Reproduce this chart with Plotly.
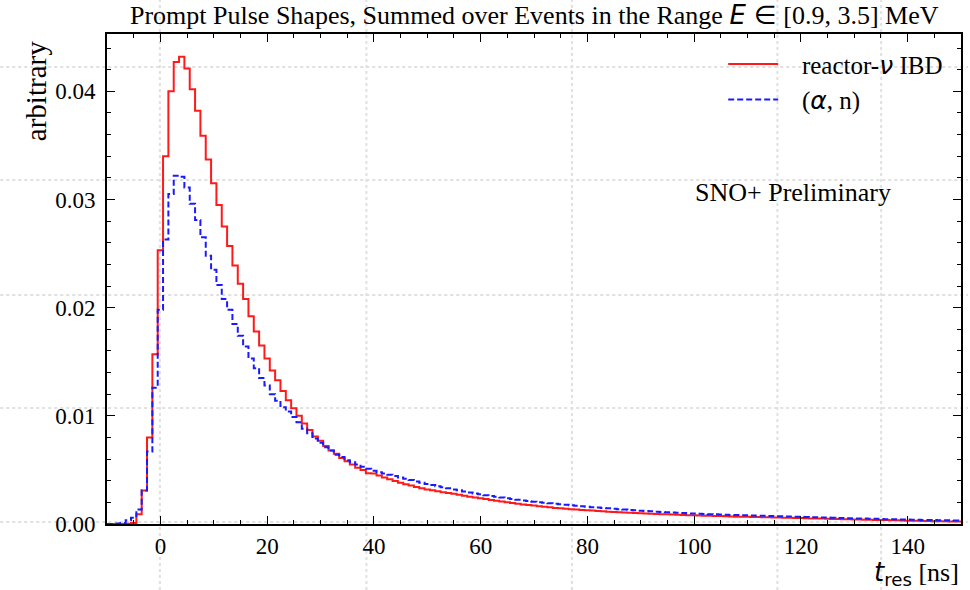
import plotly.graph_objects as go

# bin centres in ns (1 ns wide bins)
t_res = list(range(-10, 151))

ibd = [
    0, 0, 0, 0, 0.00003, 0.0001, 0.0009, 0.0031, 0.0080, 0.0157,
    0.0253, 0.0340, 0.0400, 0.0427, 0.0432, 0.0421, 0.0402, 0.0382, 0.0359, 0.0337,
    0.0315, 0.0295, 0.0275, 0.0257, 0.0239, 0.0222, 0.0208, 0.0192, 0.0178, 0.0165,
    0.0153, 0.0142, 0.0133, 0.0123, 0.01145, 0.0107, 0.0100, 0.0093, 0.0087, 0.0081,
    0.0077, 0.0072, 0.0068, 0.0065, 0.0061, 0.0058, 0.0055, 0.0052, 0.0050, 0.0047,
    0.00468, 0.00449, 0.00431, 0.00414, 0.00398, 0.00382, 0.00368, 0.00355, 0.00342, 0.00331,
    0.00320, 0.00311, 0.00302, 0.00294, 0.00287, 0.00280, 0.00270, 0.00261, 0.00253, 0.00245,
    0.00237, 0.00230, 0.00222, 0.00214, 0.00207, 0.00200, 0.00194, 0.00188, 0.00181, 0.00175,
    0.00170, 0.00164, 0.00159, 0.00154, 0.00149, 0.00145, 0.00141, 0.00137, 0.00134, 0.00130,
    0.00127, 0.00124, 0.00120, 0.00117, 0.00114, 0.00111, 0.00109, 0.00106, 0.00104, 0.00101,
    0.00099, 0.00097, 0.00095, 0.00093, 0.00091, 0.00089, 0.00087, 0.00085, 0.00083, 0.00082,
    0.00080, 0.00079, 0.00077, 0.00076, 0.00074, 0.00073, 0.00071, 0.00070, 0.00068, 0.00067,
    0.00066, 0.00065, 0.00064, 0.00063, 0.00062, 0.00061, 0.00060, 0.00058, 0.00057, 0.00056,
    0.00055, 0.00054, 0.00052, 0.00051, 0.00050, 0.00049, 0.00047, 0.00046, 0.00045, 0.00044,
    0.00042, 0.00041, 0.00040, 0.00039, 0.00038, 0.00037, 0.00036, 0.00035, 0.00034, 0.00032,
    0.00031, 0.00030, 0.00029, 0.00028, 0.00027, 0.00026, 0.00026, 0.00025, 0.00024, 0.00023,
    0.00022,
]

alpha_n = [
    0, 0, 0.00005, 0.0001, 0.00035, 0.00057, 0.00134, 0.0031, 0.0067, 0.0126,
    0.0198, 0.0263, 0.0305, 0.0322, 0.0321, 0.0311, 0.0296, 0.0281, 0.0265, 0.0248,
    0.0235, 0.0221, 0.0208, 0.0198, 0.0185, 0.0174, 0.0164, 0.0153, 0.0144, 0.0135,
    0.0128, 0.0120, 0.0114, 0.0108, 0.0104, 0.0099, 0.0094, 0.0088, 0.0084, 0.0079,
    0.0075, 0.0071, 0.0068, 0.0064, 0.0062, 0.0059, 0.0057, 0.0055, 0.0053, 0.0051,
    0.00492, 0.00479, 0.00467, 0.00455, 0.00443, 0.00431, 0.00419, 0.00406, 0.00394, 0.00382,
    0.00370, 0.00360, 0.00350, 0.00340, 0.00330, 0.00320, 0.00311, 0.00301, 0.00292, 0.00283,
    0.00274, 0.00266, 0.00259, 0.00251, 0.00244, 0.00237, 0.00231, 0.00224, 0.00218, 0.00212,
    0.00206, 0.00201, 0.00196, 0.00191, 0.00187, 0.00182, 0.00178, 0.00173, 0.00169, 0.00164,
    0.00160, 0.00156, 0.00152, 0.00148, 0.00145, 0.00141, 0.00137, 0.00134, 0.00130, 0.00127,
    0.00123, 0.00120, 0.00117, 0.00114, 0.00111, 0.00108, 0.00106, 0.00103, 0.00101, 0.00098,
    0.00096, 0.00094, 0.00093, 0.00091, 0.00089, 0.00088, 0.00086, 0.00084, 0.00083, 0.00081,
    0.00080, 0.00079, 0.00077, 0.00076, 0.00074, 0.00073, 0.00071, 0.00070, 0.00069, 0.00067,
    0.00066, 0.00065, 0.00063, 0.00062, 0.00060, 0.00059, 0.00058, 0.00056, 0.00055, 0.00053,
    0.00052, 0.00051, 0.00050, 0.00049, 0.00048, 0.00046, 0.00045, 0.00044, 0.00043, 0.00042,
    0.00041, 0.00040, 0.00039, 0.00038, 0.00037, 0.00036, 0.00035, 0.00034, 0.00034, 0.00033,
    0.00032,
]

serif = "Liberation Serif, Times New Roman, serif"
math = "font-family:'DejaVu Sans'"
gap = "\u00a0\u00a0\u00a0"  # extra space between legend sample and label

fig = go.Figure()
fig.add_trace(go.Scatter(
    x=t_res, y=ibd, mode="lines", line_shape="hvh",
    line=dict(color="#ff1a1a", width=2),
    name=gap + "reactor-<span style=\"" + math + "\"><i>ν</i></span> IBD",
))
fig.add_trace(go.Scatter(
    x=t_res, y=alpha_n, mode="lines", line_shape="hvh",
    line=dict(color="#1a1aff", width=2, dash="6px,3px"),
    name=gap + "(<span style=\"" + math + "\"><i>α</i></span>, n)",
))

# faint dotted page grid visible behind the reference image (pixel positions)
W, H, L, R, T, B = 970, 590, 107, 7, 34, 66
pw, ph = W - L - R, H - T - B
for px in [160, 367, 573, 779, 883]:
    fig.add_shape(type="line", xref="paper", yref="paper", layer="below",
                  x0=(px - L) / pw, x1=(px - L) / pw, y0=(H - B - H) / ph, y1=(H - B) / ph,
                  line=dict(color="#e0e0e0", width=2, dash="dot"))
for py in [67, 180, 295, 408, 522]:
    fig.add_shape(type="line", xref="paper", yref="paper", layer="below",
                  x0=-L / pw, x1=(W - L) / pw, y0=(H - B - py) / ph, y1=(H - B - py) / ph,
                  line=dict(color="#e0e0e0", width=2, dash="dot"))

axis_common = dict(
    showline=True, linecolor="black", linewidth=2, mirror="allticks",
    ticks="inside", ticklen=8, tickwidth=1, tickcolor="black",
    showgrid=False, zeroline=False,
    tickfont=dict(family=serif, size=23, color="black"),
)

fig.update_xaxes(range=[-10, 150], dtick=20, tick0=0,
                 minor=dict(dtick=5, ticks="inside", ticklen=4, tickcolor="black"),
                 **axis_common)
fig.update_yaxes(range=[0, 0.0453], dtick=0.01, tickformat=".2f", ticklabelstandoff=5,
                 minor=dict(dtick=0.002, ticks="inside", ticklen=4, tickcolor="black"),
                 **axis_common)

fig.add_annotation(
    text="Prompt Pulse Shapes, Summed over Events in the Range "
         "<span style=\"" + math + "\"><i>E</i> ∈</span> [0.9, 3.5] MeV",
    xref="paper", yref="paper", x=0.5, y=1.0, yshift=2,
    xanchor="center", yanchor="bottom", showarrow=False,
    font=dict(family=serif, size=26, color="black"))
fig.add_annotation(
    text="SNO+ Preliminary", xref="paper", yref="paper",
    x=(795 - L) / pw, y=(H - B - 192) / ph, xanchor="center", yanchor="middle",
    showarrow=False, font=dict(family=serif, size=26, color="black"))
fig.add_annotation(
    text="arbitrary", xref="paper", yref="paper", textangle=-90,
    x=(36 - L) / pw, y=(H - B - 91) / ph, xanchor="center", yanchor="middle",
    showarrow=False, font=dict(family=serif, size=29, color="black"))
fig.add_annotation(
    text="<span style=\"" + math + "\"><i>t</i><sub>res</sub></span> [ns]",
    xref="paper", yref="paper", x=1.0, y=(H - B - 573) / ph,
    xanchor="right", yanchor="middle", showarrow=False,
    font=dict(family=serif, size=26, color="black"))

fig.update_layout(
    width=W, height=H,
    margin=dict(l=L, r=R, t=T, b=B),
    paper_bgcolor="white", plot_bgcolor="rgba(0,0,0,0)",
    font=dict(family=serif, color="black"),
    showlegend=True,
    legend=dict(x=0.985, y=0.985, xanchor="right", yanchor="top",
                bgcolor="rgba(0,0,0,0)", font=dict(family=serif, size=25),
                tracegroupgap=0, itemwidth=50),
)

# drop the default 8px page margin so the figure sits at the window's corner
fig.write_html("out.html", config={"displayModeBar": False},
               post_script="document.body.style.margin='0';")
